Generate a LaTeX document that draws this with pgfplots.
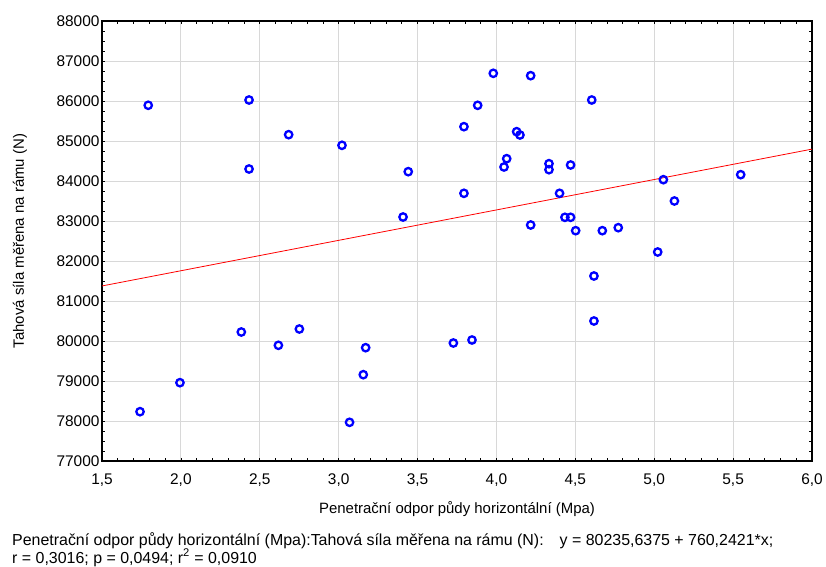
\documentclass[border=0pt]{standalone}
\usepackage{pgfplots}
\pgfplotsset{compat=1.18}
\usepackage{fontspec}
\setmainfont{Liberation Sans}
\definecolor{gridgray}{RGB}{216,216,216}
\begin{document}
\begin{tikzpicture}
\useasboundingbox (-102bp,-106bp) rectangle (724bp,461bp);
\begin{axis}[
  at={(0,0)}, anchor=south west,
  width=710bp, height=440bp, scale only axis,
  xmin=1.5, xmax=6.0, ymin=77000, ymax=88000,
  xtick={1.5,2,...,6}, ytick={77000,78000,...,88000},
  minor x tick num=4, minor y tick num=3,
  tick align=inside, major tick length=3bp, minor tick length=3bp,
  tick style={black, line width=0.6bp},
  xtick pos=both, ytick pos=both,
  grid=major,
  major grid style={gridgray, line width=0.9bp},
  axis line style={black, line width=1.2bp},
  font=\fontsize{15.5}{17}\selectfont,
  /pgf/number format/assume math mode=true,
  xticklabel style={/pgf/number format/use comma, /pgf/number format/fixed, /pgf/number format/fixed zerofill, /pgf/number format/precision=1, yshift=-9bp},
  yticklabel style={/pgf/number format/1000 sep={}, xshift=1bp},
  scaled y ticks=false,
  xlabel={Penetrační odpor půdy horizontální (Mpa)},
  ylabel={Tahová síla měřena na rámu (N)},
  xlabel style={at={(axis description cs:0.5,0)}, anchor=center, yshift=-48bp, font=\fontsize{15}{17}\selectfont},
  ylabel style={at={(axis description cs:0,0.5)}, anchor=center, yshift=82bp, font=\fontsize{15}{17}\selectfont},
  clip=false,
]
\addplot[red, line width=0.8bp] coordinates {(1.5,81375.9707) (6.0,84797.0901)};
\addplot[only marks, mark=o, mark size=3.7bp, mark options={blue, line width=2.3bp}, color=blue] coordinates {
(1.793,85893) (2.432,86025) (2.683,85158) (3.021,84892) (2.432,84300) (3.441,84233) (3.408,83100)
(3.980,86692) (4.217,86633) (4.604,86025) (3.881,85892) (3.794,85358) (4.128,85233) (4.149,85150)
(4.065,84558) (4.048,84350) (4.333,84433) (4.333,84283) (4.470,84400) (5.058,84033) (5.548,84158)
(3.794,83692) (4.400,83692) (5.128,83500) (4.434,83092) (4.470,83092) (4.217,82900) (4.502,82758)
(4.671,82758) (4.772,82833)
(5.022,82225) (4.618,81625) (4.618,80500) (3.727,79950) (3.845,80025)
(1.741,78233) (1.994,78958) (2.383,80225) (2.618,79892) (2.751,80300) (3.069,77967) (3.156,79158) (3.171,79833)
};
\end{axis}
\node[anchor=base west, font=\fontsize{16}{18}\selectfont, inner sep=0pt] at (-90bp,-84bp) {Penetrační odpor půdy horizontální (Mpa):Tahová síla měřena na rámu (N):\quad y = 80235,6375 + 760,2421*x;};
\node[anchor=base west, font=\fontsize{16}{18}\selectfont, inner sep=0pt] at (-90bp,-102bp) {r = 0,3016; p = 0,0494; r\textsuperscript{2} = 0,0910};
\end{tikzpicture}
\end{document}
